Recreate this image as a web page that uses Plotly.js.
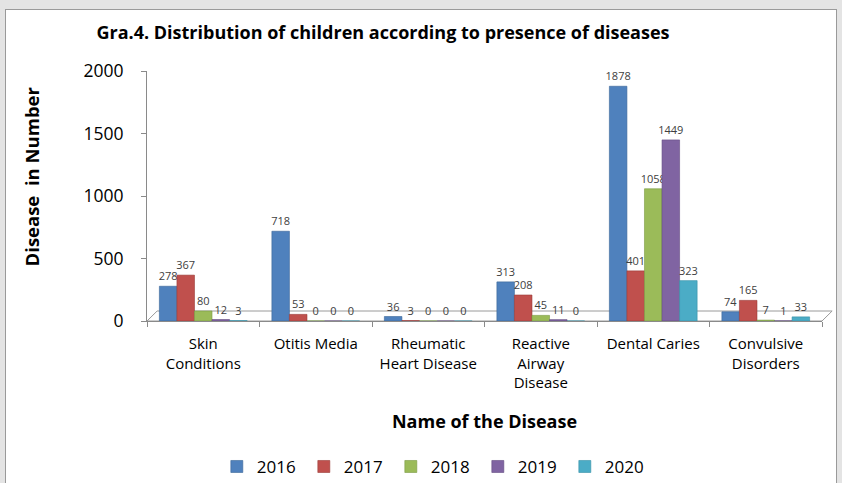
<!DOCTYPE html>
<html>
<head>
<meta charset="utf-8">
<script src="https://cdn.plot.ly/plotly-3.0.1.min.js"></script>
<style>
  html, body { margin: 0; padding: 0; background: #e4e4e4; width: 842px; height: 483px; overflow: hidden; }
  #frame { position: absolute; left: 5px; top: 9px; width: 830px; height: 480px; background: #ffffff; border: 1px solid #9a9a9a; }
  #chart { position: absolute; left: 0; top: 0; width: 830px; height: 474px; }
</style>
</head>
<body>
<div id="frame"><div id="chart"></div></div>
<script>
const categories = ["Skin<br>Conditions", "Otitis Media", "Rheumatic<br>Heart Disease", "Reactive<br>Airway<br>Disease", "Dental Caries", "Convulsive<br>Disorders"];
const years = ["2016", "2017", "2018", "2019", "2020"];
const v2016 = [278, 718, 36, 313, 1878, 74];
const v2017 = [367, 53, 3, 208, 401, 165];
const v2018 = [80, 0, 0, 45, 1058, 7];
const v2019 = [12, 0, 0, 11, 1449, 1];
const v2020 = [3, 0, 0, 0, 323, 33];
const seriesValues = [v2016, v2017, v2018, v2019, v2020];
const colors = ["#4F81BD", "#C0504D", "#9BBB59", "#8064A2", "#4BACC6"];
const lineColors = ["#3A6799", "#9B3B38", "#7A9A43", "#634C82", "#3690A8"];

const traces = years.map((y, i) => ({
  type: "bar",
  name: y,
  x: categories,
  y: seriesValues[i],
  marker: { color: colors[i], line: { color: lineColors[i], width: 0.6 } },
  text: seriesValues[i].map(String),
  textposition: "outside",
  constraintext: "none",
  cliponaxis: false,
  textfont: { family: "Open Sans, sans-serif", size: 11, color: "#404040" },
  hoverinfo: "x+y+name"
}));

const layout = {
  width: 830,
  height: 474,
  paper_bgcolor: "rgba(0,0,0,0)",
  plot_bgcolor: "rgba(0,0,0,0)",
  margin: { l: 141, r: 14, t: 61, b: 163 },
  bargap: 0.22,
  bargroupgap: 0,
  showlegend: true,
  title: {
    text: "<b>Gra.4. Distribution of children according to presence of diseases</b>",
    font: { family: "Open Sans, sans-serif", size: 18, color: "#000000" },
    xref: "container", x: 0.109, xanchor: "left",
    yref: "container", y: 0.952, yanchor: "middle"
  },
  xaxis: {
    type: "category",
    tickson: "boundaries",
    ticks: "outside",
    ticklen: 5,
    tickcolor: "#8a8a8a",
    showline: true,
    linecolor: "#8a8a8a",
    linewidth: 1,
    showgrid: false,
    zeroline: false,
    ticklabelstandoff: 9,
    tickfont: { family: "Open Sans, sans-serif", size: 15, color: "#000000" },
    title: {
      text: "<b>Name of the Disease</b>",
      font: { family: "Open Sans, sans-serif", size: 18, color: "#000000" },
      standoff: 24
    }
  },
  yaxis: {
    range: [0, 2000],
    tickvals: [0, 500, 1000, 1500, 2000],
    ticks: "outside",
    ticklen: 5,
    tickcolor: "#8a8a8a",
    showline: true,
    linecolor: "#8a8a8a",
    linewidth: 1,
    showgrid: false,
    zeroline: false,
    ticklabelstandoff: 14,
    tickfont: { family: "Open Sans, sans-serif", size: 17.5, color: "#000000" },
    title: {
      text: "&nbsp;&nbsp;&nbsp;&nbsp;&nbsp;&nbsp;&nbsp;&nbsp;<b>Disease  in Number</b>",
      font: { family: "Open Sans, sans-serif", size: 18.5, color: "#000000" },
      standoff: 38
    }
  },
  legend: {
    orientation: "h",
    xref: "container", x: 0.254, xanchor: "left",
    yref: "container", y: 0.036, yanchor: "middle",
    font: { family: "Open Sans, sans-serif", size: 17, color: "#000000" },
    entrywidth: 42,
    entrywidthmode: "pixels",
    traceorder: "normal"
  },
  shapes: [
    { type: "path", xref: "paper", yref: "paper",
      path: "M 0,0 L 1,0 L 1.015,0.04 L 0.015,0.04 Z",
      line: { color: "#9a9a9a", width: 1 }, fillcolor: "rgba(0,0,0,0)", layer: "below" }
  ]
};

Plotly.newPlot("chart", traces, layout, { displayModeBar: false, staticPlot: true });
</script>
</body>
</html>
